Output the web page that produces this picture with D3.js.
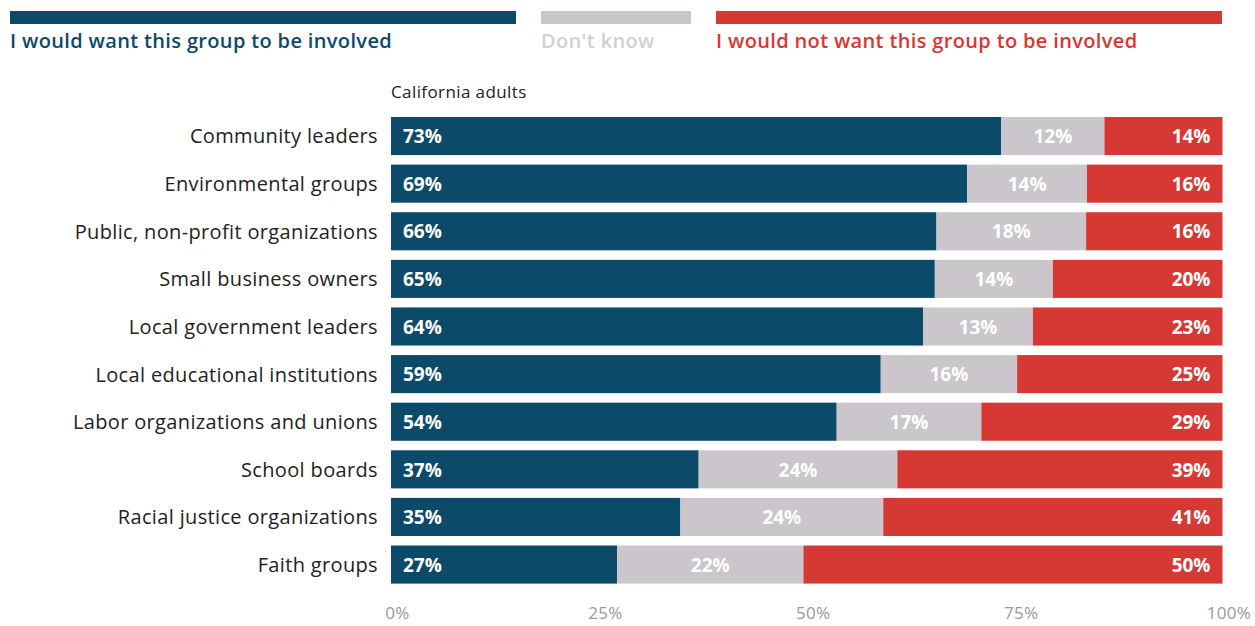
<!DOCTYPE html>
<html>
<head>
<meta charset="utf-8">
<script src="https://cdn.jsdelivr.net/npm/d3@7"></script>
<style>
  body { margin: 0; background: #fff; }
  svg { font-family: "Open Sans", Lato, sans-serif; }
</style>
</head>
<body>
<div id="chart"></div>
<script>
// survey shares, in percent
const categories = [
  'Community leaders', 'Environmental groups', 'Public, non-profit organizations',
  'Small business owners', 'Local government leaders', 'Local educational institutions',
  'Labor organizations and unions', 'School boards', 'Racial justice organizations', 'Faith groups'
];
const wantValues = [73.4, 69.3, 65.6, 65.4, 64.0, 58.9, 53.6, 37.0, 34.8, 27.2];
const dontKnowValues = [12.4, 14.4, 18.0, 14.2, 13.2, 16.4, 17.4, 23.9, 24.4, 22.4];
const notWantValues = [14.2, 16.3, 16.4, 20.4, 22.8, 24.7, 29.0, 39.1, 40.8, 50.4];
const seriesNames = ['I would want this group to be involved', "Don't know", 'I would not want this group to be involved'];
const seriesColors = ['#0b4a68', '#cbc6cb', '#d63834'];
const tickValues = [0, 25, 50, 75, 100];

const width = 1255, height = 626;
const font = '"Open Sans", Lato, sans-serif';

const svg = d3.select('#chart').append('svg')
  .attr('width', width)
  .attr('height', height);

const x = d3.scaleLinear().domain([0, 100]).range([391, 1222.5]);
const y = d3.scaleBand().domain(categories).range([117, 583.6]).paddingInner(0.2).paddingOuter(0);

// legend across the top
const legendX = d3.scaleOrdinal().domain(seriesNames).range([10, 541, 716]);
const legendW = d3.scaleOrdinal().domain(seriesNames).range([506, 150, 506]);
const legend = svg.append('g').selectAll('g')
  .data(seriesNames)
  .enter().append('g')
  .attr('transform', d => `translate(${legendX(d)},0)`);
legend.append('rect')
  .attr('y', 11).attr('height', 13)
  .attr('width', d => legendW(d))
  .attr('fill', (d, i) => seriesColors[i]);
legend.append('text')
  .attr('y', 48)
  .style('font-size', '20px')
  .style('font-weight', 600)
  .style('letter-spacing', '0.35px')
  .attr('fill', (d, i) => i === 1 ? '#d3cfd3' : seriesColors[i])
  .text(d => d);

svg.append('text')
  .attr('x', 391).attr('y', 98)
  .style('font-size', '17px')
  .style('letter-spacing', '0.4px')
  .attr('fill', '#222')
  .text('California adults');

// stack the three series per category
const rows = categories.map((c, i) => ({ key: c, s0: wantValues[i], s1: dontKnowValues[i], s2: notWantValues[i] }));
const stacked = d3.stack().keys(['s0', 's1', 's2'])(rows);

const layers = svg.append('g').selectAll('g')
  .data(stacked)
  .enter().append('g')
  .attr('fill', (d, i) => seriesColors[i]);

layers.selectAll('rect')
  .data(d => d)
  .enter().append('rect')
  .attr('x', d => x(d[0]))
  .attr('y', d => y(d.data.key))
  .attr('width', d => x(d[1]) - x(d[0]))
  .attr('height', y.bandwidth());

// value labels
layers.each(function (layer, li) {
  d3.select(this).selectAll('text')
    .data(layer)
    .enter().append('text')
    .attr('x', d => li === 0 ? x(d[0]) + 12 : li === 1 ? (x(d[0]) + x(d[1])) / 2 : x(d[1]) - 12)
    .attr('y', d => y(d.data.key) + y.bandwidth() / 2)
    .attr('dy', '0.38em')
    .attr('text-anchor', li === 0 ? 'start' : li === 1 ? 'middle' : 'end')
    .style('font-size', '19px')
    .style('font-weight', 700)
    .attr('fill', '#fff')
    .text(d => Math.round(d[1] - d[0]) + '%');
});

// category labels
svg.append('g')
  .attr('transform', 'translate(378,1)')
  .call(d3.axisLeft(y).tickSize(0).tickPadding(0))
  .call(g => g.select('.domain').remove())
  .selectAll('text')
  .style('font-size', '20px')
  .style('letter-spacing', '0.35px')
  .style('font-family', font)
  .attr('fill', '#222');

// bottom axis labels
svg.append('g')
  .attr('transform', 'translate(6,603)')
  .call(d3.axisBottom(x).tickValues(tickValues).tickFormat(d => d + '%').tickSize(0).tickPadding(4))
  .call(g => g.select('.domain').remove())
  .selectAll('text')
  .style('font-size', '17px')
  .style('letter-spacing', '0.3px')
  .style('font-family', font)
  .attr('fill', '#999');
</script>
</body>
</html>
